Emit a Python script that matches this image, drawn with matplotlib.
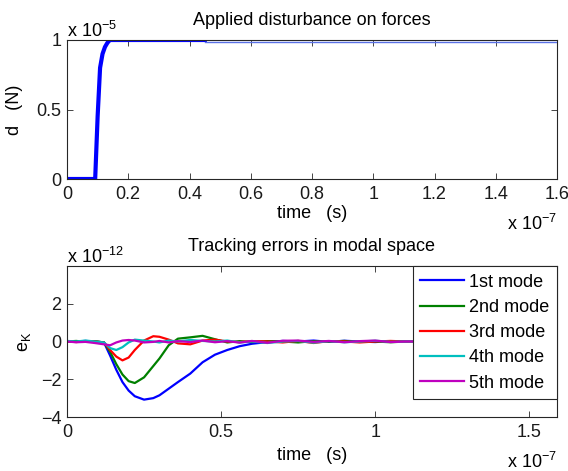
import numpy as np
import matplotlib
matplotlib.use("Agg")
import matplotlib.pyplot as plt
import matplotlib.transforms as mtransforms

plt.rcParams['font.family'] = ['Liberation Sans', 'DejaVu Sans']
plt.rcParams['mathtext.default'] = 'regular'
plt.rcParams['font.size'] = 13

# disturbance (time in 1e-7 s, force in 1e-5 N)
t_dist = [0, 0.092, 0.100, 0.108, 0.116, 0.124, 0.132, 0.140, 0.45, 1.6]
d_dist = [0, 0, 0.45, 0.80, 0.90, 0.95, 0.98, 1.0, 1.0, 1.0]

# tracking errors (time in 1e-7 s, error in 1e-12)
t_err = [0, 0.03, 0.06, 0.09, 0.12, 0.14, 0.16, 0.18, 0.20, 0.22, 0.25, 0.28,
         0.30, 0.33, 0.36, 0.40, 0.44, 0.48, 0.52, 0.56, 0.60, 0.65, 0.70, 0.75,
         0.80, 0.85, 0.90, 0.95, 1.00, 1.05, 1.10, 1.20, 1.30, 1.40, 1.50, 1.59]
e1 = [0.02, 0.0, 0.03, 0.0, -0.05, -0.75, -1.5, -2.15, -2.6, -2.9, -3.08, -3.0,
      -2.85, -2.5, -2.15, -1.7, -1.1, -0.7, -0.45, -0.25, -0.12, -0.03, 0.03, 0.0,
      0.05, -0.02, 0.04, 0.0, -0.03, 0.02, 0.0, 0.0, 0.0, 0.0, 0.0, 0.0]
e2 = [0.0, 0.03, -0.02, 0.02, -0.05, -0.55, -1.2, -1.75, -2.1, -2.2, -1.9, -1.3,
      -0.9, -0.2, 0.15, 0.22, 0.3, 0.12, -0.05, 0.02, -0.03, 0.02, 0.0, -0.05,
      0.02, 0.0, 0.03, -0.02, 0.0, -0.04, 0.0, 0.0, 0.0, 0.0, 0.0, 0.0]
e3 = [0.0, -0.03, 0.02, 0.0, -0.05, -0.45, -0.8, -1.0, -0.85, -0.45, 0.05, 0.28,
      0.25, 0.1, -0.1, -0.15, 0.05, 0.1, 0.0, -0.03, 0.02, 0.0, -0.05, 0.03,
      -0.08, 0.02, 0.0, -0.05, 0.0, 0.03, 0.0, 0.0, 0.0, 0.0, 0.0, 0.0]
e4 = [0.03, 0.0, 0.05, 0.0, -0.05, -0.35, -0.45, -0.3, -0.05, 0.1, 0.05, 0.0,
      -0.05, 0.05, 0.0, 0.08, 0.03, 0.0, 0.05, -0.05, 0.0, -0.08, 0.0, 0.03,
      -0.06, 0.02, -0.04, 0.0, 0.04, -0.02, 0.0, 0.0, 0.0, 0.0, 0.0, 0.0]
e5 = [0.0, -0.04, -0.02, -0.08, -0.15, -0.2, -0.05, 0.05, 0.08, 0.05, -0.05, -0.02,
      0.03, -0.05, 0.02, -0.03, 0.05, -0.04, 0.02, -0.06, 0.03, -0.07, 0.04, 0.05,
      -0.02, 0.03, -0.04, 0.02, 0.05, -0.03, 0.0, 0.0, 0.0, 0.0, 0.0, 0.0]
errors = [e1, e2, e3, e4, e5]
modes = ['1st mode', '2nd mode', '3rd mode', '4th mode', '5th mode']
colors = ['#0000ff', '#008000', '#ff0000', '#00bfbf', '#bf00bf']

W, H = 568, 471
fig = plt.figure(figsize=(W / 100, H / 100), dpi=100)


def px_axes(left, top, right, bottom):
    return fig.add_axes([left / W, 1 - bottom / H, (right - left) / W, (bottom - top) / H])


def style(ax):
    ax.tick_params(direction='in', top=True, right=True, length=4, width=0.6,
                   colors='#262626', labelcolor='#1a1a1a', labelsize=13)
    ax.tick_params(axis='x', pad=5)
    ax.tick_params(axis='y', pad=4)
    for s in ax.spines.values():
        s.set_linewidth(0.8)
        s.set_color('#262626')


# top panel
ax1 = px_axes(67, 40, 557, 179)
t_dist = np.array(t_dist)
d_dist = np.array(d_dist)
m = t_dist <= 0.45
ax1.plot(t_dist[m], d_dist[m], color='#0000ff', lw=3)
# thin tail, drawn just under the top border
tail = mtransforms.offset_copy(ax1.transData, fig=fig, x=0, y=-1.5, units='dots')
ax1.plot(t_dist[~m | (t_dist == 0.45)], d_dist[~m | (t_dist == 0.45)],
         color='#5b72e6', lw=1.0, zorder=3, transform=tail)
ax1.set_xlim(0, 1.6)
ax1.set_ylim(0, 1)
ax1.set_xticks(np.arange(0, 1.61, 0.2))
ax1.set_xticklabels(['0', '0.2', '0.4', '0.6', '0.8', '1', '1.2', '1.4', '1.6'])
ax1.set_yticks([0, 0.5, 1])
ax1.set_yticklabels(['0', '0.5', '1'])
style(ax1)
ax1.set_title('Applied disturbance on forces', fontsize=13, pad=10.5)
ax1.set_xlabel('time   (s)')
ax1.xaxis.set_label_coords(0.5, -0.185)
ax1.set_ylabel('d   (N)')
ax1.yaxis.set_label_coords(-0.09, 0.5)
ax1.annotate('x 10$^{-5}$', xy=(0, 1), xycoords='axes fraction', xytext=(0, 2),
             textcoords='offset points', ha='left', va='baseline')
ax1.annotate('x 10$^{-7}$', xy=(1, 0), xycoords='axes fraction', xytext=(0, -37),
             textcoords='offset points', ha='right', va='baseline')

# bottom panel
ax2 = px_axes(67, 266, 557, 417)
for e, c, lab in zip(errors, colors, modes):
    ax2.plot(t_err, e, color=c, lw=1.6, label=lab)
ax2.set_xlim(0, 1.59)
ax2.set_ylim(-4, 4)
ax2.set_xticks([0, 0.5, 1, 1.5])
ax2.set_xticklabels(['0', '0.5', '1', '1.5'])
ax2.set_yticks([-4, -2, 0, 2])
style(ax2)
ax2.set_title('Tracking errors in modal space', fontsize=13, pad=10.5)
ax2.set_xlabel('time   (s)')
ax2.xaxis.set_label_coords(0.5, -0.2)
ax2.set_ylabel('$e_K$')
ax2.yaxis.set_label_coords(-0.07, 0.5)
ax2.annotate('x 10$^{-12}$', xy=(0, 1), xycoords='axes fraction', xytext=(0, 2),
             textcoords='offset points', ha='left', va='baseline')
ax2.annotate('x 10$^{-7}$', xy=(1, 0), xycoords='axes fraction', xytext=(0, -37),
             textcoords='offset points', ha='right', va='baseline')
leg = ax2.legend(loc='upper right', borderaxespad=0, fancybox=False, framealpha=1,
                 edgecolor='#262626', handlelength=2.4, handletextpad=0.3,
                 labelspacing=0.46, borderpad=0.42, fontsize=13)
leg.get_frame().set_linewidth(0.8)

fig.savefig('out.png', dpi=100)
